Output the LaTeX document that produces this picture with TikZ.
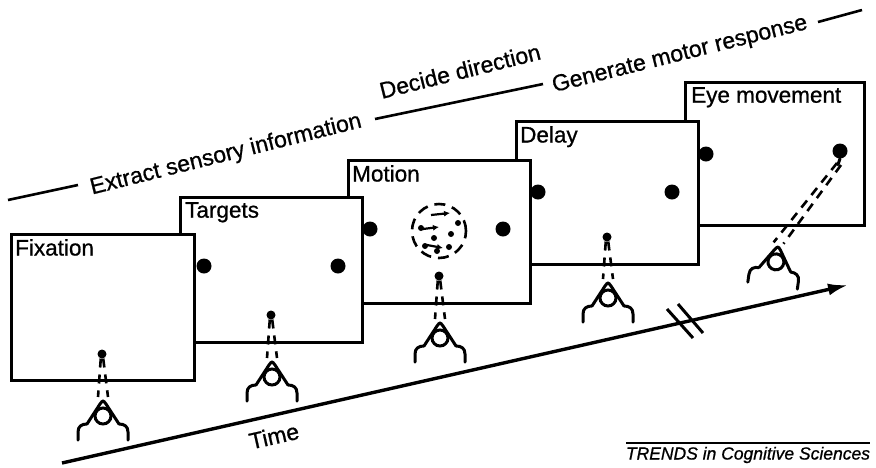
\documentclass[tikz,border=0pt]{standalone}
\usepackage{fontspec}
\setmainfont{Liberation Sans}[FakeBold=0.8]
\usetikzlibrary{arrows.meta}
\begin{document}
\begin{tikzpicture}[x=1pt,y=-1pt,
  panel/.style={draw=black, line width=2.8pt, fill=white, inner sep=0pt, anchor=north west},
  lbl/.style={anchor=north west, inner sep=0pt, font=\fontsize{22.5}{26}\selectfont},
  target/.style={circle, fill=black, minimum size=15pt, inner sep=0pt},
  fixdot/.style={circle, fill=black, minimum size=9pt, inner sep=0pt},
  rdot/.style={circle, fill=black, minimum size=6pt, inner sep=0pt},
  gaze/.style={line width=2.6pt, dash pattern=on 9pt off 7pt},
  stage/.style={font=\fontsize{23}{27}\selectfont, inner sep=0pt, rotate=14},
  stageline/.style={line width=2.6pt},
  motionarrow/.style={line width=2.2pt, -{Latex[length=6pt,width=6pt]}},
  viewer/.pic={
    \draw[line width=3pt, line join=round]
      (-16,23) -- (-3,3) .. controls (0,-1) .. (3,3) -- (16,23);
    \draw[line width=3pt] (0,15) circle[radius=8pt];
    \draw[line width=3pt, line cap=round]
      (-25,39) -- (-25,31) .. controls (-25,25) and (-21,23) .. (-16,23);
    \draw[line width=3pt, line cap=round]
      (25,39) -- (25,31) .. controls (25,25) and (21,23) .. (16,23);
    \coordinate (-le) at (-5,-4);
    \coordinate (-re) at (5,-4);
  }
]
\useasboundingbox[fill=white] (0,0) rectangle (876,467);

% ---- stage labels along the top
\coordinate (s1a) at (8,200);   \coordinate (s1b) at (78,185);
\coordinate (s2a) at (375,119); \coordinate (s2b) at (543,84);
\coordinate (s3a) at (818,22);  \coordinate (s3b) at (862,10);
\draw[stageline] (s1a) -- (s1b);
\draw[stageline] (s2a) -- (s2b);
\draw[stageline] (s3a) -- (s3b);
\node[stage] (extract)  at (226,155) {Extract sensory information};
\node[stage] (decide)   at (460,71)  {Decide direction};
\node[stage] (generate) at (680,55)  {Generate motor response};

% ---- panels, drawn from the back (last epoch) to the front (first epoch)
\node[panel, minimum width=179pt, minimum height=143pt] (eye) at (684,81) {};
\node[lbl] (eyelbl) at (691,87) {Eye movement};
\node[target] (e1) at (706,154) {};
\node[target] (e2) at (840,151) {};
\draw[line width=3pt, line cap=round] (e2.south) -- ++(-2,6);

\node[panel, minimum width=182pt, minimum height=143pt] (delay) at (515,120) {};
\node[lbl] (delaylbl) at (520,126) {Delay};
\node[target] (d1) at (538,192) {};
\node[target] (d2) at (672,192) {};
\node[fixdot] (f4) at (607,237) {};

\node[panel, minimum width=182pt, minimum height=143pt] (motion) at (347,159) {};
\node[lbl] (motionlbl) at (352,165) {Motion};
\node[target] (m1) at (370,229) {};
\node[target] (m2) at (503,229) {};
\node[fixdot] (f3) at (439,276) {};
% random-dot motion patch
\node[circle, draw, line width=2.6pt, dash pattern=on 11pt off 7pt,
      minimum size=54pt, inner sep=0pt] (patch) at (439,231) {};
\node[rdot] (r1) at (421,228) {};
\node[rdot] (r2) at (458,223) {};
\node[rdot] (r3) at (451,234) {};
\node[rdot] (r4) at (434,238) {};
\node[rdot] (r5) at (449,247) {};
\node[rdot] (r6) at (425,246) {};
\node[rdot] (r7) at (437,251) {};
\draw[motionarrow] (431,215) -- (450,213);
\draw[motionarrow] (423,229) -- (439,227);
\draw[motionarrow] (427,245) -- (443,248);

\node[panel, minimum width=182pt, minimum height=145pt] (targets) at (179,196) {};
\node[lbl] (targetslbl) at (185,202) {Targets};
\node[target] (t1) at (204,266) {};
\node[target] (t2) at (338,266) {};
\node[fixdot] (f2) at (271,315) {};

\node[panel, minimum width=183pt, minimum height=146pt] (fixation) at (10,233) {};
\node[lbl] (fixationlbl) at (15,239) {Fixation};
\node[fixdot] (f1) at (102,354) {};

% ---- viewers and their lines of gaze
\pic (v1) at (103,401) {viewer};
\pic (v2) at (272,362) {viewer};
\pic (v3) at (440,323) {viewer};
\pic (v4) at (608,283) {viewer};
\pic[rotate=-8] (v5) at (778,247) {viewer};

\draw[gaze] (f1.-105) -- (v1-le);  \draw[gaze] (f1.-75) -- (v1-re);
\draw[gaze] (f2.-105) -- (v2-le);  \draw[gaze] (f2.-75) -- (v2-re);
\draw[gaze] (f3.-105) -- (v3-le);  \draw[gaze] (f3.-75) -- (v3-re);
\draw[gaze] (f4.-105) -- (v4-le);  \draw[gaze] (f4.-75) -- (v4-re);
\coordinate (g5a) at (837,163);
\coordinate (g5b) at (841,165);
\draw[gaze] (g5a) -- (v5-le);
\draw[gaze] (g5b) -- (v5-re);

% ---- time axis
\coordinate (time0) at (62,463);
\coordinate (time1) at (848,285);
\draw[line width=3.4pt, -{Latex[length=20pt,width=12pt]}] (time0) -- (time1);
\node[font=\fontsize{23}{27}\selectfont, inner sep=0pt, rotate=12.7] (timelbl) at (274,436) {Time};
\coordinate (b1a) at (667,309); \coordinate (b1b) at (693,338);
\coordinate (b2a) at (678,304); \coordinate (b2b) at (703,333);
\draw[line width=3pt] (b1a) -- (b1b);
\draw[line width=3pt] (b2a) -- (b2b);

% ---- credit line
\coordinate (cr0) at (626,443); \coordinate (cr1) at (870,443);
\draw[line width=1.6pt] (cr0) -- (cr1);
\node[font=\fontsize{17.5}{20}\selectfont\itshape, inner sep=0pt] (credit) at (748,455) {TRENDS in Cognitive Sciences};
\end{tikzpicture}
\end{document}
